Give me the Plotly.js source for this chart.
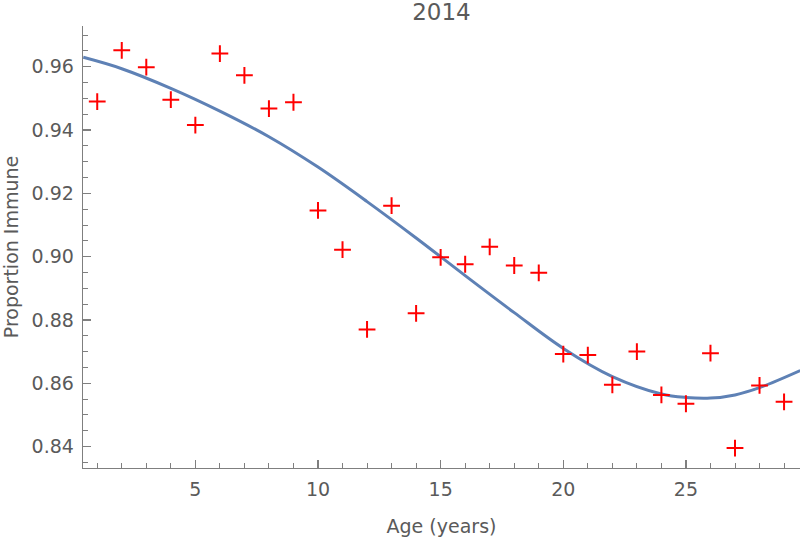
<!DOCTYPE html>
<html>
<head>
<meta charset="utf-8">
<script src="https://cdn.plot.ly/plotly-3.0.1.min.js"></script>
<style>html,body{margin:0;padding:0;background:#fff;}#chart{width:800px;height:542px;}</style>
</head>
<body>
<div id="chart"></div>
<script>
// Observed data: age (years) and proportion immune
const ages = [1,2,3,4,5,6,7,8,9,10,11,12,13,14,15,16,17,18,19,20,21,22,23,24,25,26,27,28,29];
const immune = [0.9490,0.9652,0.9599,0.9496,0.9416,0.9642,0.9573,0.9468,0.9488,0.9146,0.9022,0.8770,0.9161,0.8821,0.8998,0.8976,0.9031,0.8972,0.8949,0.8692,0.8689,0.8595,0.8700,0.8563,0.8535,0.8695,0.8395,0.8593,0.8541];

// Fitted curve at sample ages
const fitAges = [0.43,2,4,6,8,10,12,14,16,18,20,22,24,25,26,27,28,29.66];
const fitValues = [0.9630,0.9594,0.9532,0.9460,0.9379,0.9283,0.9174,0.9059,0.8940,0.8823,0.8710,0.8621,0.8566,0.8555,0.8553,0.8563,0.8586,0.8640];

const titleText = "2014";
const xTitle = "Age (years)";
const yTitle = "Proportion Immune";

const textColor = "#5a5a5a";
const axisColor = "#7f7f7f";
const fontFamily = "DejaVu Sans, sans-serif";

const traces = [
  {
    x: fitAges, y: fitValues, type: "scatter", mode: "lines",
    line: {color: "#5e81b5", width: 3, shape: "spline", smoothing: 1},
    hoverinfo: "skip", showlegend: false
  },
  {
    x: ages, y: immune, type: "scatter", mode: "markers",
    marker: {symbol: "cross-thin", size: 12, line: {color: "#ff0000", width: 2}, color: "#ff0000"},
    showlegend: false
  }
];

const layout = {
  width: 800, height: 542,
  margin: {l: 83, r: 0, t: 26, b: 74, pad: 0},
  paper_bgcolor: "#fff", plot_bgcolor: "#fff",
  font: {family: fontFamily, color: textColor, size: 19},
  title: {text: titleText, font: {size: 23, color: textColor, family: fontFamily},
          x: 0.5, xref: "paper", y: 0.978, yref: "container", yanchor: "middle"},
  xaxis: {
    range: [0.42, 29.65], showgrid: false, zeroline: false,
    showline: true, linecolor: axisColor, linewidth: 1.3,
    ticks: "inside", ticklen: 8, tickwidth: 1.2, tickcolor: axisColor,
    tick0: 0, dtick: 5,
    minor: {ticks: "inside", ticklen: 5, tickwidth: 1, tickcolor: axisColor, dtick: 1, showgrid: false},
    tickfont: {size: 19, color: textColor, family: fontFamily},
    ticklabelstandoff: 4,
    title: {text: xTitle, font: {size: 19, color: textColor, family: fontFamily}, standoff: 20}
  },
  yaxis: {
    range: [0.8332, 0.9729], showgrid: false, zeroline: false,
    showline: true, linecolor: axisColor, linewidth: 1.3,
    ticks: "inside", ticklen: 8, tickwidth: 1.2, tickcolor: axisColor,
    tick0: 0.84, dtick: 0.02, tickformat: ".2f",
    minor: {ticks: "inside", ticklen: 5, tickwidth: 1, tickcolor: axisColor, dtick: 0.005, showgrid: false},
    tickfont: {size: 19, color: textColor, family: fontFamily},
    ticklabelstandoff: 4,
    title: {text: yTitle, font: {size: 19, color: textColor, family: fontFamily}, standoff: 21}
  }
};

Plotly.newPlot("chart", traces, layout, {displayModeBar: false, staticPlot: true});
</script>
</body>
</html>
